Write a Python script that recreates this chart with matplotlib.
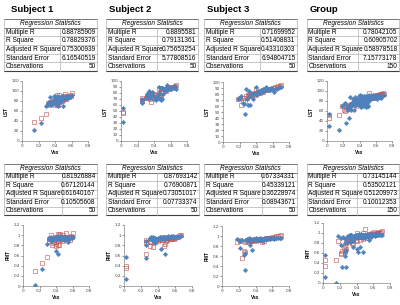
import matplotlib
matplotlib.use("Agg")
import matplotlib.pyplot as plt

# -------------------------------------------------------------------------
# Datos: tablas de regresión
# -------------------------------------------------------------------------
titles = ["Subject 1", "Subject 2", "Subject 3", "Group"]
row_names = ["Multiple R", "R Square", "Adjusted R Square", "Standard Error", "Observations"]

lst_stats = [
    ["0.88785909", "0.78829376", "0.75300939", "6.16540519", "50"],
    ["0.8895581", "0.79131361", "0.75653254", "5.77808516", "50"],
    ["0.71699952", "0.51408831", "0.43310303", "6.94804715", "50"],
    ["0.78042105", "0.60905702", "0.58978518", "7.15773178", "150"],
]
fmt_stats = [
    ["0.81926884", "0.67120144", "0.61640167", "0.10505608", "50"],
    ["0.87693142", "0.76900871", "0.73051017", "0.07733374", "50"],
    ["0.67334331", "0.45339121", "0.36228974", "0.08943671", "50"],
    ["0.73145144", "0.53502121", "0.51209973", "0.10012353", "150"],
]

# -------------------------------------------------------------------------
# Datos: puntos (observado en azul, predicho en rojo)
# -------------------------------------------------------------------------
s1_vsx = [0.15, 0.23, 0.29, 0.31, 0.32, 0.33, 0.34, 0.35, 0.36, 0.37,
          0.38, 0.39, 0.40, 0.40, 0.41, 0.42, 0.42, 0.43, 0.43, 0.44,
          0.44, 0.45, 0.45, 0.46, 0.47, 0.48, 0.48, 0.49, 0.50, 0.50,
          0.51, 0.52, 0.53, 0.54, 0.55, 0.56, 0.57, 0.58, 0.59, 0.60]
s1_lst = [22, 37, 70, 76, 74, 78, 88, 72, 76, 80, 78, 90, 85, 74, 80, 75, 88, 90, 82, 70,
          85, 88, 80, 85, 78, 90, 84, 86, 70, 86, 88, 88, 84, 86, 90, 86, 88, 88, 90, 92]
s1_lst_pred = [39, 47, 54, 76, 73, 75, 78, 74, 80, 77, 79, 82, 79, 72, 84, 80, 76, 92, 74, 72,
               86, 92, 78, 86, 82, 84, 80, 88, 82, 86, 90, 95, 84, 88, 90, 88, 88, 92, 90, 97]
s1_fmt = [0.01, 0.33, 0.82, 0.93, 0.95, 0.90, 0.96, 0.88, 0.92, 0.95,
          0.93, 0.97, 0.95, 0.68, 0.93, 0.63, 0.96, 0.98, 0.94, 0.92,
          0.97, 0.99, 0.93, 0.96, 0.94, 0.97, 0.92, 0.95, 0.90, 0.96,
          0.95, 0.94, 0.97, 0.93, 0.86, 0.96, 0.95, 0.97, 0.95, 0.97]
s1_fmt_pred = [0.29, 0.45, 0.57, 0.88, 0.92, 0.95, 1.00, 0.80, 0.84, 0.90,
               0.87, 0.96, 0.78, 0.82, 0.92, 0.80, 0.95, 1.02, 0.88, 0.80,
               1.00, 1.02, 0.90, 0.97, 0.93, 0.96, 0.88, 1.00, 0.92, 0.97,
               0.95, 1.05, 0.93, 0.96, 0.92, 0.95, 0.90, 0.98, 0.96, 1.05]

s2_vsx = [0.02, 0.02, 0.26, 0.26, 0.26, 0.30, 0.31, 0.32, 0.33, 0.34,
          0.35, 0.36, 0.37, 0.38, 0.40, 0.41, 0.42, 0.44, 0.45, 0.46,
          0.46, 0.47, 0.48, 0.48, 0.49, 0.50, 0.50, 0.51, 0.52, 0.54,
          0.55, 0.56, 0.57, 0.58, 0.59, 0.60, 0.62, 0.64, 0.66, 0.67]
s2_lst = [31, 55, 63, 70, 68, 72, 76, 78, 80, 84, 72, 75, 78, 82, 70, 74, 68, 72, 76, 90,
          80, 70, 68, 88, 72, 70, 88, 78, 86, 84, 88, 93, 86, 88, 87, 88, 90, 88, 92, 86]
s2_lst_pred = [47, 49, 68, 71, 66, 72, 74, 72, 76, 78, 70, 65, 74, 80, 78, 76, 74, 76, 72, 80,
               88, 74, 88, 82, 76, 80, 84, 82, 86, 84, 86, 88, 88, 90, 86, 88, 90, 90, 92, 93]
s2_fmt = [0.13, 0.57, 0.55, 0.80, 0.88, 0.95, 0.93, 0.96, 0.90, 0.96,
          0.86, 0.85, 0.94, 0.93, 0.95, 0.92, 0.96, 0.73, 0.95, 0.95,
          0.97, 0.93, 0.62, 0.96, 0.94, 0.96, 0.97, 0.95, 0.98, 0.96,
          0.98, 0.97, 0.96, 0.98, 0.97, 0.96, 0.98, 0.97, 0.98, 0.99]
s2_fmt_pred = [0.35, 0.40, 0.62, 0.90, 0.86, 0.78, 0.88, 0.86, 0.92, 0.76,
               0.88, 0.90, 0.86, 0.90, 0.88, 0.92, 0.90, 0.94, 0.90, 0.92,
               0.96, 0.78, 0.82, 0.94, 0.88, 0.92, 0.95, 0.90, 0.94, 0.92,
               0.94, 0.96, 0.93, 0.95, 0.92, 0.95, 0.96, 0.97, 1.00, 1.01]

s3_vsx = [0.18, 0.21, 0.22, 0.24, 0.26, 0.27, 0.28, 0.29, 0.30, 0.31,
          0.32, 0.33, 0.34, 0.35, 0.36, 0.37, 0.38, 0.40, 0.41, 0.42,
          0.43, 0.44, 0.45, 0.46, 0.48, 0.49, 0.50, 0.51, 0.52, 0.54,
          0.55, 0.57, 0.58, 0.60, 0.62, 0.63, 0.65, 0.67, 0.69, 0.70]
s3_lst = [71, 74, 76, 65, 64, 47, 88, 72, 62, 76, 85, 62, 78, 80, 72, 82, 80, 92, 78, 85,
          82, 84, 82, 86, 88, 84, 86, 88, 92, 86, 88, 87, 90, 88, 84, 89, 88, 90, 92, 92]
s3_lst_pred = [72, 74, 62, 70, 74, 68, 76, 74, 78, 76, 80, 78, 80, 77, 80, 79, 82, 86, 82, 84,
               83, 84, 82, 85, 86, 84, 86, 87, 88, 86, 88, 89, 88, 90, 90, 91, 92, 93, 94, 95]
s3_fmt = [0.95, 0.77, 0.90, 0.92, 0.63, 0.33, 0.67, 0.92, 0.94, 0.92,
          0.96, 0.82, 0.93, 0.95, 0.73, 0.94, 0.95, 0.93, 0.96, 0.94,
          0.92, 0.95, 0.96, 0.94, 0.90, 0.95, 0.92, 0.96, 0.95, 0.97,
          0.96, 0.95, 0.97, 0.96, 0.95, 0.97, 0.96, 0.97, 0.96, 0.97]
s3_fmt_pred = [0.88, 0.92, 0.90, 0.57, 0.70, 0.68, 0.88, 0.90, 0.92, 0.88,
               0.93, 0.90, 0.92, 0.91, 0.90, 0.93, 0.92, 0.94, 0.90, 0.93,
               0.92, 0.94, 0.93, 0.94, 0.88, 0.94, 0.90, 0.95, 0.96, 0.95,
               0.96, 0.96, 0.97, 0.98, 0.97, 0.99, 1.00, 1.00, 1.01, 1.03]

# Grupo: los observados son la unión de los tres sujetos
grp_pred_vsx = [0.02, 0.02, 0.15, 0.18, 0.21, 0.22, 0.23, 0.25, 0.26, 0.26,
                0.27, 0.28, 0.29, 0.30, 0.31, 0.32, 0.33, 0.34, 0.35, 0.36,
                0.37, 0.38, 0.39, 0.40, 0.41, 0.42, 0.43, 0.44, 0.45, 0.46,
                0.47, 0.48, 0.49, 0.50, 0.51, 0.52, 0.53, 0.54, 0.55, 0.56,
                0.57, 0.58, 0.59, 0.60, 0.61, 0.62, 0.63, 0.64, 0.65, 0.66,
                0.67, 0.68, 0.69, 0.70, 0.36, 0.40, 0.44, 0.48, 0.52, 0.56]
grp_lst_pred = [46, 52, 52, 70, 62, 60, 64, 68, 70, 66, 72, 70, 74, 72, 75, 74, 78, 76, 77, 80,
                78, 80, 82, 80, 83, 84, 82, 85, 86, 84, 86, 88, 86, 88, 87, 96, 88, 89, 90, 88,
                90, 91, 90, 92, 91, 92, 93, 92, 94, 93, 95, 94, 96, 95, 70, 74, 76, 80, 84, 86]
grp_fmt_pred = [0.34, 0.47, 0.46, 0.84, 0.61, 0.58, 0.65, 0.70, 0.62, 0.75,
                0.68, 0.80, 0.85, 0.82, 0.88, 0.84, 0.90, 0.86, 0.80, 0.88,
                0.92, 0.90, 0.86, 0.92, 1.00, 0.94, 0.92, 0.95, 0.94, 0.96,
                0.92, 1.00, 0.95, 1.08, 0.94, 0.96, 0.97, 0.95, 0.98, 0.96,
                0.98, 1.00, 0.97, 0.98, 1.02, 0.99, 0.98, 1.00, 1.01, 1.00,
                1.02, 1.01, 1.03, 1.04, 0.78, 0.84, 0.86, 0.88, 0.90, 0.92]

grp_vsx = s1_vsx + s2_vsx + s3_vsx
grp_lst = s1_lst + s2_lst + s3_lst
grp_fmt = s1_fmt + s2_fmt + s3_fmt

# -------------------------------------------------------------------------
# Figura (coordenadas en píxeles)
# -------------------------------------------------------------------------
W, H = 400, 305
fig = plt.figure(figsize=(W / 100, H / 100), dpi=100)
fig.patch.set_facecolor("white")

bg = fig.add_axes([0, 0, 1, 1])
bg.set_xlim(0, W)
bg.set_ylim(H, 0)
bg.axis("off")

FONT = ["Liberation Sans Narrow", "Liberation Sans", "DejaVu Sans"]
BLUE = "#4F81BD"
RED = "#C0504D"


def px_axes(left, top, right, bottom):
    return fig.add_axes([left / W, 1 - bottom / H, (right - left) / W, (bottom - top) / H])


def draw_table(left, right, split, top, bottom, values):
    rh = (bottom - top) / 6
    grid = "#b0b0b0"
    for i in range(7):
        y = top + i * rh
        color = "#404040" if i in (0, 1, 6) else grid
        lw = 0.8 if i == 6 else 0.5
        bg.plot([left, right], [y, y], color=color, lw=lw)
    bg.plot([left, left], [top, bottom], color=grid, lw=0.5)
    bg.plot([right, right], [top, bottom], color=grid, lw=0.5)
    bg.plot([split, split], [top + rh, bottom], color=grid, lw=0.5)
    bg.text((left + right) / 2, top + rh / 2, "Regression Statistics", style="italic",
            ha="center", va="center", fontsize=4.7, family=FONT)
    for i, (name, val) in enumerate(zip(row_names, values)):
        yc = top + (i + 1.5) * rh
        bg.text(left + 1.5, yc, name, ha="left", va="center", fontsize=4.7, family=FONT)
        bg.text(right - 1.5, yc, val, ha="right", va="center", fontsize=4.7, family=FONT)


def scatter_panel(box, x, y_obs, y_pred, x_pred, ymax, ystep, ylabel):
    ax = px_axes(*box)
    ax.plot(x_pred, y_pred, linestyle="none", marker="s", ms=3.4, mfc="none",
            mec=RED, mew=0.5, alpha=0.8, zorder=2)
    ax.plot(x, y_obs, linestyle="none", marker="D", ms=2.3, mfc=BLUE,
            mec=BLUE, mew=0.3, zorder=3)
    ax.set_xlim(0, 0.8)
    ax.set_ylim(0, ymax)
    ax.set_xticks([0, 0.2, 0.4, 0.6, 0.8])
    ax.set_xticklabels(["0", "0.2", "0.4", "0.6", "0.8"])
    yt = [round(i * ystep, 2) for i in range(int(round(ymax / ystep)) + 1)]
    ax.set_yticks(yt)
    ax.set_yticklabels([("%g" % v) for v in yt])
    for s in ("top", "right"):
        ax.spines[s].set_visible(False)
    for s in ("left", "bottom"):
        ax.spines[s].set_color("#888888")
        ax.spines[s].set_linewidth(0.5)
    ax.tick_params(labelsize=3.0, length=1.2, width=0.4, pad=1, colors="#444444")
    ax.set_xlabel("Vsx", fontsize=3.4, fontweight="bold", labelpad=1.5, family=FONT)
    ax.set_ylabel(ylabel, fontsize=3.4, fontweight="bold", labelpad=2, family=FONT)
    ax.patch.set_alpha(0)
    return ax


# Títulos
title_x = [11, 109, 207, 310]
for tx, t in zip(title_x, titles):
    bg.text(tx, 10, t, ha="left", va="center", fontsize=6.8, fontweight="bold",
            family=["Liberation Sans", "DejaVu Sans"])

# Tablas
top_tables = [(4, 97, 60), (106, 198, 157), (204, 297, 260), (307, 399, 358)]
bot_tables = [(4, 97, 62), (106, 199, 157), (204, 297, 262), (307, 399, 357)]
for (l, r, s), vals in zip(top_tables, lst_stats):
    draw_table(l, r, s, 19, 71, vals)
for (l, r, s), vals in zip(bot_tables, fmt_stats):
    draw_table(l, r, s, 164, 215, vals)

# Dispersión LST
scatter_panel((22, 81, 88, 141), s1_vsx, s1_lst, s1_lst_pred, s1_vsx, 120, 20, "LST")
scatter_panel((121, 81, 187, 141), s2_vsx, s2_lst, s2_lst_pred, s2_vsx, 100, 10, "LST")
scatter_panel((223, 82, 289, 142), s3_vsx, s3_lst, s3_lst_pred, s3_vsx, 100, 10, "LST")
scatter_panel((327, 81, 392, 141), grp_vsx, grp_lst, grp_lst_pred, grp_pred_vsx, 120, 20, "LST")

# Dispersión FMT
scatter_panel((23, 225, 89, 286), s1_vsx, s1_fmt, s1_fmt_pred, s1_vsx, 1.2, 0.2, "FMT")
scatter_panel((124, 225, 192, 286), s2_vsx, s2_fmt, s2_fmt_pred, s2_vsx, 1.2, 0.2, "FMT")
scatter_panel((222, 226, 289, 286), s3_vsx, s3_fmt, s3_fmt_pred, s3_vsx, 1.2, 0.2, "FMT")
scatter_panel((323, 223, 390, 283), grp_vsx, grp_fmt, grp_fmt_pred, grp_pred_vsx, 1.2, 0.2, "FMT")

fig.savefig("out.png", dpi=100, facecolor="white")
